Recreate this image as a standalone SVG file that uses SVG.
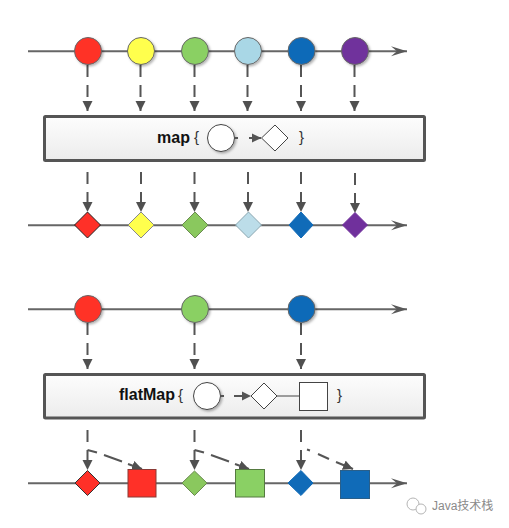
<svg xmlns="http://www.w3.org/2000/svg" width="509" height="528" viewBox="0 0 509 528">
<defs>
<linearGradient id="boxFill" x1="0" y1="0" x2="0" y2="1"><stop offset="0" stop-color="#fdfdfd"/><stop offset="1" stop-color="#ececec"/></linearGradient>
<filter id="sh" x="-20%" y="-20%" width="150%" height="150%"><feDropShadow dx="1.5" dy="1.5" stdDeviation="1" flood-color="#000" flood-opacity="0.3"/></filter>
<marker id="open" markerUnits="userSpaceOnUse" markerWidth="18" markerHeight="14" refX="16" refY="7" orient="auto"><path d="M0 2L16 7L0 12L6 7Z" fill="#595959"/></marker>
<marker id="solid" markerUnits="userSpaceOnUse" markerWidth="12" markerHeight="12" refX="10" refY="5" orient="auto"><path d="M0 0L10 5L0 10Z" fill="#505050"/></marker>
</defs>
<style>
.tl{stroke:#666;stroke-width:2;fill:none}
.d{stroke:#555;stroke-width:2;fill:none;stroke-dasharray:12 8}
.s{stroke:#555;stroke-width:2;fill:none}
.box{fill:url(#boxFill);stroke:#555;stroke-width:3}
.c{stroke:#666;stroke-width:1;filter:url(#sh)}
.t{font-family:"Liberation Sans",Arial,sans-serif;font-size:16px;fill:#111}
.b{font-family:"Liberation Sans",Arial,sans-serif;font-size:15px;fill:#333}
.w{fill:#fff;stroke:#444;stroke-width:1}
</style>
<rect width="509" height="528" fill="#fff"/>
<g id="connectors">
<path class="tl" d="M28 51.300H407" marker-end="url(#open)"/>
<path class="tl" d="M28 225.300H407" marker-end="url(#open)"/>
<path class="tl" d="M28 309.300H407" marker-end="url(#open)"/>
<path class="tl" d="M28 483.300H407" marker-end="url(#open)"/>
<g id="map-in">
<path class="d" d="M87.500 65V111" marker-end="url(#solid)"/>
<path class="d" d="M140.500 65V111" marker-end="url(#solid)"/>
<path class="d" d="M194.500 65V111" marker-end="url(#solid)"/>
<path class="d" d="M247.500 65V111" marker-end="url(#solid)"/>
<path class="d" d="M301 65V111" marker-end="url(#solid)"/>
<path class="d" d="M354.500 65V111" marker-end="url(#solid)"/>
</g>
<g id="map-out">
<path class="d" d="M87.500 172V212" marker-end="url(#solid)"/>
<path class="d" d="M141 172V212" marker-end="url(#solid)"/>
<path class="d" d="M194.500 172V212" marker-end="url(#solid)"/>
<path class="d" d="M248 172V212" marker-end="url(#solid)"/>
<path class="d" d="M301 172V212" marker-end="url(#solid)"/>
<path class="d" d="M355 173V213" marker-end="url(#solid)"/>
</g>
<g id="flat-in">
<path class="d" d="M87.500 323V369" marker-end="url(#solid)"/>
<path class="d" d="M194.500 323V369" marker-end="url(#solid)"/>
<path class="d" d="M301 323V369" marker-end="url(#solid)"/>
</g>
<g id="flat-out">
<path class="d" d="M87.500 430V470" marker-end="url(#solid)"/>
<path class="d" d="M194.500 430V470" marker-end="url(#solid)"/>
<path class="d" d="M301 430V470" marker-end="url(#solid)"/>
<path class="s" d="M87.500 450L97 452.500M104 455L122 461.500" />
<path class="s" d="M128 464L142 469" marker-end="url(#solid)"/>
<path class="s" d="M194.500 450L204 452.500M211 455L229 461.500"/>
<path class="s" d="M235 464L249 469" marker-end="url(#solid)"/>
<path class="s" d="M307 449.500L310 450.500M318 454L329 459"/>
<path class="s" d="M336 462L353 469" marker-end="url(#solid)"/>
</g>
</g>
<g id="top-circles">
<circle class="c" cx="88" cy="51" r="13.500" fill="#ff3028"/>
<circle class="c" cx="141" cy="51" r="13.500" fill="#ffff4d"/>
<circle class="c" cx="195" cy="51" r="13.500" fill="#8ad064"/>
<circle class="c" cx="248" cy="51" r="13.500" fill="#a9d7e6"/>
<circle class="c" cx="301.500" cy="51" r="13.500" fill="#106bb8"/>
<circle class="c" cx="355" cy="51" r="13.500" fill="#70309c"/>
</g>
<g id="map-box">
<rect class="box" x="44.500" y="116.500" width="380" height="44" rx="1"/>
<text class="t" x="157" y="143" font-weight="bold">map</text>
<text class="b" x="194" y="142">{</text>
<circle class="w" cx="221" cy="138" r="13.500" filter="url(#sh)"/>
<path class="s" d="M235 138H238M249 138H261"/>
<path d="M252 133.500L261.500 138L252 142.500Z" fill="#555"/>
<path class="w" d="M261.500 138L275 125L288 138L275 151Z"/>
<text class="b" x="299" y="142">}</text>
</g>
<g id="map-results">
<path d="M74.500 225L87.500 212L100.500 225L87.500 238Z" fill="#ff3028" stroke="#222"/>
<path d="M128 225L141 212L154 225L141 238Z" fill="#ffff4d" stroke="#888"/>
<path d="M182 225L195 212L208 225L195 238Z" fill="#8ac85e" stroke="#6a8a50"/>
<path d="M235.500 225L248.500 212L261.500 225L248.500 238Z" fill="#bcdde9" stroke="#8aa6b0"/>
<path d="M289 225L301 212L313 225L301 238Z" fill="#106bb8" stroke="#106bb8"/>
<path d="M342.500 225L355 212.500L367.500 225L355 237.500Z" fill="#70309c" stroke="#70309c"/>
</g>
<g id="flat-circles">
<circle class="c" cx="88" cy="309" r="13.500" fill="#ff3028"/>
<circle class="c" cx="195" cy="309" r="13.500" fill="#8ad064"/>
<circle class="c" cx="301.500" cy="309" r="13.500" fill="#106bb8"/>
</g>
<g id="flatmap-box">
<rect class="box" x="44.500" y="374.500" width="380" height="43.500" rx="1"/>
<text class="t" x="119" y="400" font-weight="bold">flatMap</text>
<text class="b" x="178" y="400">{</text>
<circle class="w" cx="207" cy="396" r="13.500" filter="url(#sh)"/>
<path class="s" d="M221 396H224M234 396H243"/>
<path d="M242 391.500L251 396L242 400.500Z" fill="#555"/>
<path class="w" d="M251 396L264 383L277 396L264 409Z"/>
<path d="M277 396H300" stroke="#444" fill="none"/>
<rect class="w" x="299.500" y="382.500" width="28" height="28"/>
<text class="b" x="337" y="400">}</text>
</g>
<g id="flat-results">
<path d="M75 483L87.500 470.500L100 483L87.500 495.500Z" fill="#ff3028" stroke="#333"/>
<rect x="128" y="469.500" width="28" height="27.500" fill="#ff3028" stroke="#8a3a35"/>
<path d="M182 483L194.500 471L207 483L194.500 495.500Z" fill="#8ac85e" stroke="#6a8a50"/>
<rect x="235.500" y="469.500" width="29" height="27.500" fill="#8ad064" stroke="#557a40"/>
<path d="M288 483L301 470.500L313 483L301 495.500Z" fill="#106bb8" stroke="#106bb8"/>
<rect x="340.500" y="470.500" width="29" height="28" fill="#106bb8" stroke="#2a5f8a"/>
</g>
<g id="watermark" fill="#fff" stroke="#b5b5b5" stroke-width="1">
<circle cx="413" cy="504" r="6"/>
<circle cx="421" cy="509" r="5"/>
<text x="432" y="510" font-family="'Liberation Sans','Noto Sans CJK SC',sans-serif" font-size="12" fill="#8a8a8a" stroke="none">Java技术栈</text>
</g>
</svg>
